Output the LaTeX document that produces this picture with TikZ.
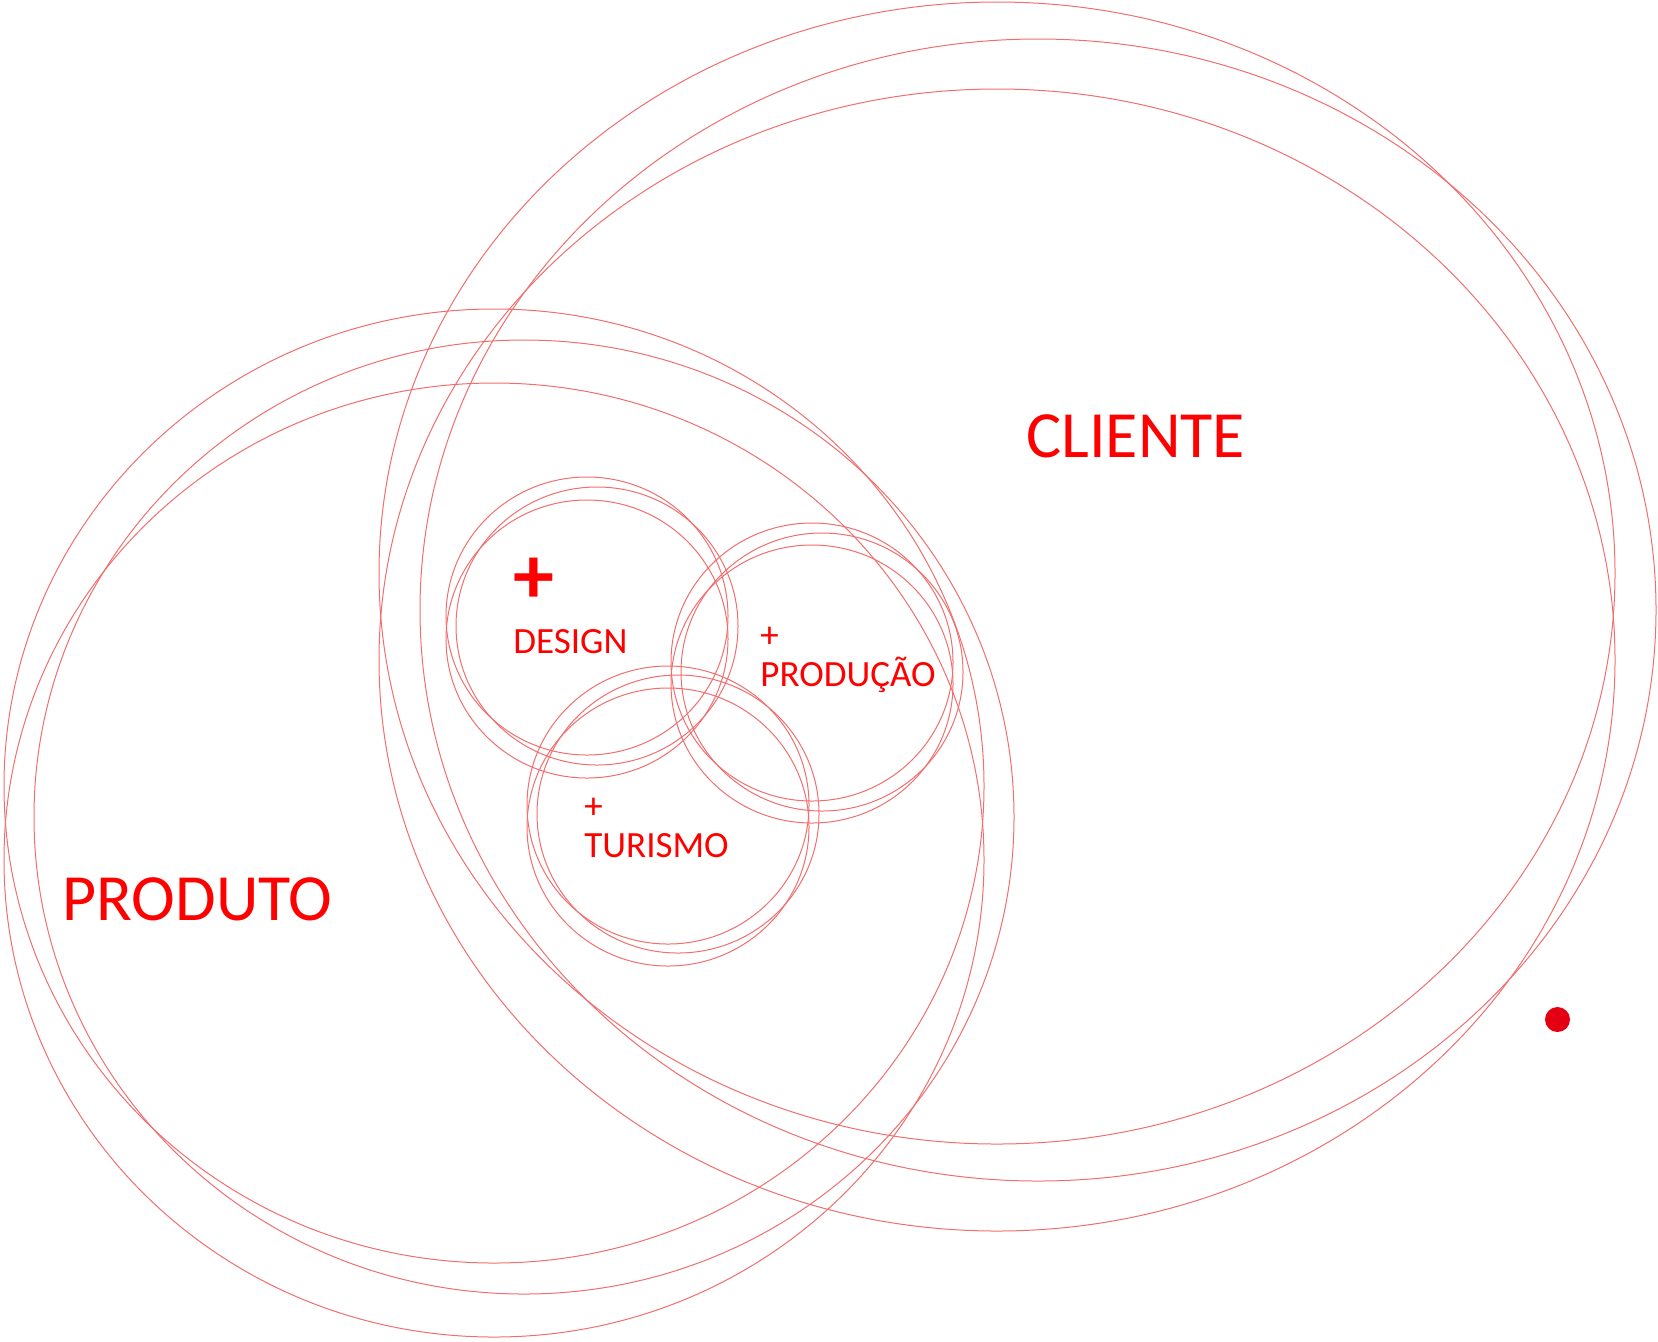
\documentclass[tikz,border=0pt]{standalone}
\usepackage{fontspec}
\setmainfont{Carlito}
\usetikzlibrary{positioning}
\definecolor{ringred}{RGB}{240,110,110}
\definecolor{labelred}{RGB}{255,0,0}
\definecolor{dotred}{RGB}{228,0,18}
% three copies of one ring: the middle one, and two moved left, one up and one down
\newcommand{\ringTriple}[7]{
	\draw[ring] (#1-#5, #2-#6) ellipse [x radius=#3, y radius=#4];
	\draw[ring] (#1, #2) ellipse [x radius=#3, y radius=#4];
	\draw[ring] (#1-#5, #2+#7) ellipse [x radius=#3, y radius=#4];
}
\begin{document}
\begin{tikzpicture}[x=0.5pt, y=-0.5pt,
	ring/.style={draw=ringred, line width=0.5pt},
	bigword/.style={text=labelred, font=\fontsize{33pt}{40pt}\selectfont, inner sep=0pt, anchor=base west},
	smallword/.style={text=labelred, font=\fontsize{18.5pt}{22pt}\selectfont, inner sep=0pt, anchor=base west}]
	\useasboundingbox (0,0) rectangle (1658,1341);
	% Cliente
	\ringTriple{1038}{610}{618}{571}{41}{37}{50}
	% Produto
	\ringTriple{524}{817}{490}{477}{30}{31}{43}
	% Design, producao, turismo
	\ringTriple{597}{626}{141}{139}{10}{10}{13}
	\ringTriple{822}{672}{141}{139}{10}{10}{12}
	\ringTriple{678}{814}{141}{139}{10}{9}{13}
	\node[bigword] (cliente) at (1026,457) {CLIENTE};
	\node[bigword] (produto) at (62,920) {PRODUTO};
	\node[text=labelred, font=\fontsize{41pt}{48pt}\selectfont\bfseries, inner sep=0pt] (plus) at (534,581) {+};
	\node[smallword] (design) at (513,653) {DESIGN};
	\node[smallword] (plusprod) at (760,647) {+};
	\node[smallword] (producao) at (760,686) {PRODUÇÃO};
	\node[smallword] (plustur) at (584,818) {+};
	\node[smallword] (turismo) at (584,857) {TURISMO};
	\fill[dotred] (1557.5,1019.5) circle (12.5);
\end{tikzpicture}
\end{document}
